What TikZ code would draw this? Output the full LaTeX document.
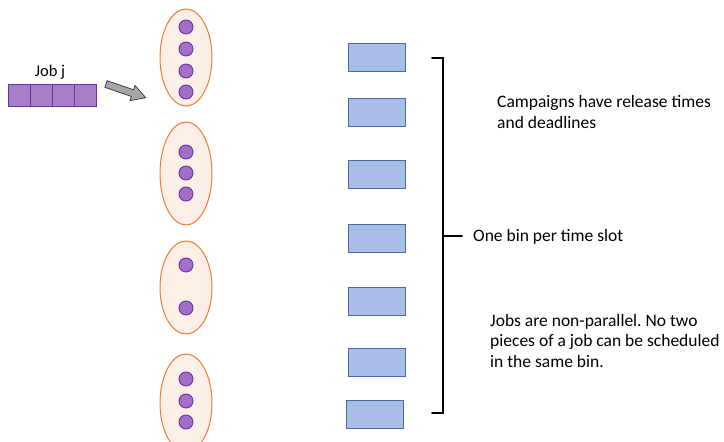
\documentclass[tikz,border=0pt]{standalone}
\usepackage{fontspec}
\setmainfont{Carlito}
\usetikzlibrary{shapes.geometric}
\definecolor{jobfill}{HTML}{A77FC8}
\definecolor{jobline}{HTML}{7030A0}
\definecolor{dotfill}{HTML}{A070C8}
\definecolor{campfill}{HTML}{FBEFE7}
\definecolor{campline}{HTML}{ED7D31}
\definecolor{binfill}{HTML}{A9BEE6}
\definecolor{binline}{HTML}{4A6AA5}
\definecolor{arrowfill}{HTML}{A6A6A6}
\definecolor{arrowline}{HTML}{404040}
\tikzset{
  cell/.style={draw=jobline, fill=jobfill, line width=0.9pt, minimum width=22pt, minimum height=22pt, inner sep=0pt, outer sep=0pt},
  piece/.style={circle, draw=jobline, fill=dotfill, line width=0.9pt, minimum size=14pt, inner sep=0pt},
  campaign/.style={ellipse, draw=campline, fill=campfill, line width=1pt, minimum width=52pt, inner sep=0pt},
  bin/.style={draw=binline, fill=binfill, line width=0.9pt, minimum width=57pt, minimum height=28pt, inner sep=0pt},
  label/.style={font=\fontsize{17.5}{20.5}\selectfont, inner sep=0pt, align=left},
  brace/.style={line width=2pt, line cap=round, line join=miter},
  blockarrow/.style={draw=arrowline, fill=arrowfill, line width=0.8pt, line join=miter}
}
\begin{document}
\frenchspacing
\begin{tikzpicture}[x=1pt, y=-1pt]
\useasboundingbox (0,0) rectangle (724,442);
\clip (0,0) rectangle (724,442);

% the job, split into four unit pieces
\node[label, font=\fontsize{16.5}{20}\selectfont] (jobj) at (50,72) {Job j};
\node[cell] (c1) at (19,95) {};
\node[cell] (c2) at (41,95) {};
\node[cell] (c3) at (63,95) {};
\node[cell] (c4) at (85,95) {};

% block arrow pointing towards the first campaign
\begin{scope}[shift={(106,84)}, rotate=-19]
  \draw[blockarrow] (0,-3.5) -- (28,-3.5) -- (28,-8) -- (42,0) -- (28,8) -- (28,3.5) -- (0,3.5) -- cycle;
\end{scope}

% campaigns with their job pieces
\node[campaign, minimum height=97pt] (k1) at (186,57.5) {};
\node[piece] (p11) at (186,27) {};
\node[piece] (p12) at (186,49) {};
\node[piece] (p13) at (186,71) {};
\node[piece] (p14) at (186,92) {};

\node[campaign, minimum height=103pt] (k2) at (186,173.5) {};
\node[piece] (p21) at (186,152) {};
\node[piece] (p22) at (186,173) {};
\node[piece] (p23) at (186,194) {};

\node[campaign, minimum height=93pt] (k3) at (186,287.5) {};
\node[piece] (p31) at (186,265) {};
\node[piece] (p32) at (186,308) {};

\node[campaign, minimum height=98pt] (k4) at (186,403) {};
\node[piece] (p41) at (186,379) {};
\node[piece] (p42) at (186,401) {};
\node[piece] (p43) at (186,422) {};

% bins, one per time slot
\node[bin] (b1) at (376.5,57.5) {};
\node[bin] (b2) at (376.5,112) {};
\node[bin] (b3) at (376.5,174.5) {};
\node[bin] (b4) at (376.5,238) {};
\node[bin] (b5) at (376.5,301) {};
\node[bin] (b6) at (376.5,362) {};
\node[bin] (b7) at (374.5,414.5) {};

% bracket grouping the bins
\coordinate (btop) at (432,58);
\coordinate (bbot) at (432,413);
\coordinate (bmid) at (443,236);
\coordinate (btip) at (462,236);
\draw[brace] (btop) -- (443,58) -- (443,413) -- (bbot);
\draw[brace] (bmid) -- (btip);

% notes
\node[label, anchor=west] (t1) at (497,112) {Campaigns have release times\\and deadlines};
\node[label, anchor=west] (t2) at (473,237) {One bin per time slot};
\node[label, anchor=west] (t3) at (490,340.5) {Jobs are non-parallel. No two\\pieces of a job can be scheduled\\in the same bin.};
\end{tikzpicture}
\end{document}
